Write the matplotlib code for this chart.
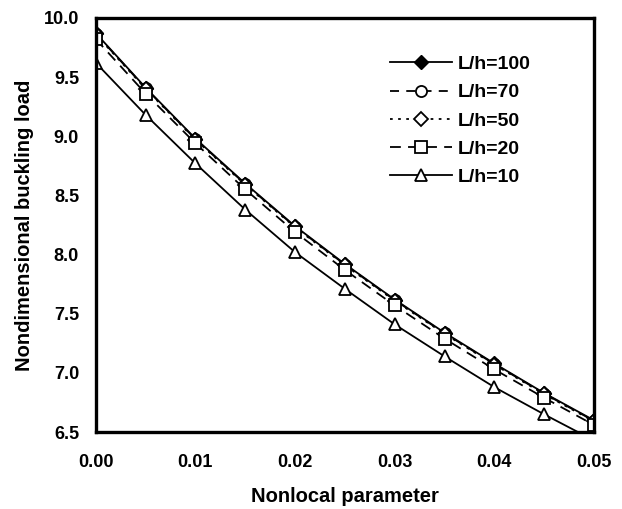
import numpy as np
import matplotlib
matplotlib.use("Agg")
import matplotlib.pyplot as plt

plt.rcParams['font.family'] = ['Liberation Sans', 'DejaVu Sans']
plt.rcParams['font.weight'] = 'bold'

# nonlocal parameter
mu = [0.0, 0.005, 0.01, 0.015, 0.02, 0.025, 0.03, 0.035, 0.04, 0.045, 0.05]

# buckling load
lh100 = [9.87, 9.41, 8.98, 8.60, 8.24, 7.92, 7.62, 7.34, 7.08, 6.83, 6.60]
lh70 = [9.865, 9.405, 8.975, 8.595, 8.235, 7.915, 7.615, 7.335, 7.075, 6.825, 6.595]
lh50 = [9.86, 9.40, 8.97, 8.59, 8.23, 7.91, 7.61, 7.33, 7.07, 6.82, 6.59]
lh20 = [9.82, 9.36, 8.94, 8.55, 8.19, 7.87, 7.57, 7.29, 7.03, 6.79, 6.56]
lh10 = [9.62, 9.18, 8.77, 8.38, 8.02, 7.71, 7.41, 7.14, 6.88, 6.65, 6.43]

labels = ['L/h=100', 'L/h=70', 'L/h=50', 'L/h=20', 'L/h=10']
xticks = [0.00, 0.01, 0.02, 0.03, 0.04, 0.05]
yticks = [6.5, 7.0, 7.5, 8.0, 8.5, 9.0, 9.5, 10.0]

fig = plt.figure(figsize=(6.22, 5.09), dpi=100)
ax = fig.add_axes([0.154, 0.151, 0.801, 0.814])

ax.plot(mu, lh100, color='black', lw=1.3, ls='-', marker='D', ms=7.5,
        mfc='black', mec='black', label=labels[0])
ax.plot(mu, lh70, color='black', lw=1.3, ls=(0, (5, 4)), marker='o', ms=8,
        mfc='white', mec='black', mew=1.3, label=labels[1])
ax.plot(mu, lh50, color='black', lw=1.3, ls=(0, (1.5, 3)), marker='D', ms=7,
        mfc='white', mec='black', mew=1.3, label=labels[2])
ax.plot(mu, lh20, color='black', lw=1.3, ls=(0, (6, 4)), marker='s', ms=8.5,
        mfc='white', mec='black', mew=1.3, label=labels[3])
ax.plot(mu, lh10, color='black', lw=1.3, ls='-', marker='^', ms=8.5,
        mfc='white', mec='black', mew=1.3, label=labels[4])

ax.set_xlim(0, 0.05)
ax.set_ylim(6.5, 10.0)
ax.set_xticks(xticks)
ax.set_xticklabels(['%.2f' % v for v in xticks])
ax.set_yticks(yticks)
ax.set_yticklabels(['%.1f' % v for v in yticks])
ax.tick_params(length=0, labelsize=13, pad=12)
ax.tick_params(axis='x', pad=16)

for s in ax.spines.values():
    s.set_linewidth(2.4)

ax.set_xlabel('Nonlocal parameter', fontsize=14.5, fontweight='bold', labelpad=11)
ax.set_ylabel('Nondimensional buckling load', fontsize=14.5, fontweight='bold', labelpad=7)

leg = ax.legend(loc='upper left', bbox_to_anchor=(0.575, 0.928), frameon=False,
                fontsize=14, handlelength=3.2, labelspacing=0.55,
                handletextpad=0.3, borderaxespad=0)

fig.savefig('out.png', dpi=100)
